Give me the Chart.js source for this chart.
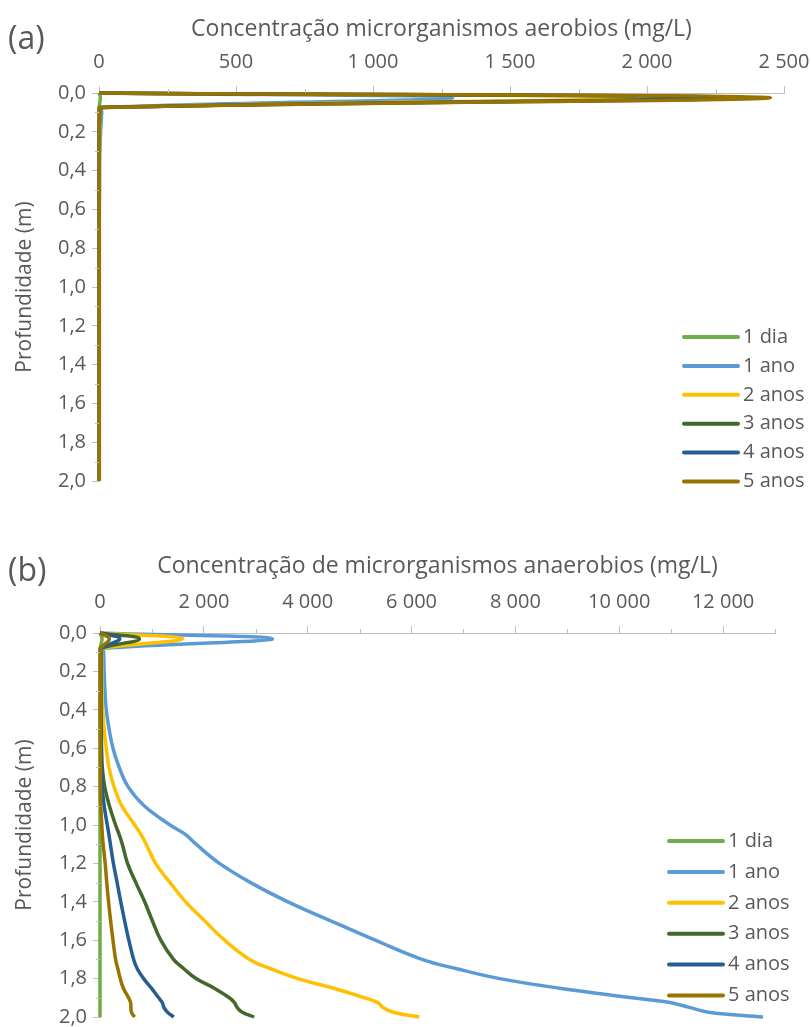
<!DOCTYPE html>
<html>
<head>
<meta charset="utf-8">
<script src="https://cdn.jsdelivr.net/npm/chart.js@4.4.1/dist/chart.umd.min.js"></script>
<style>
  html, body { margin: 0; padding: 0; background: #fff; }
  body { width: 811px; height: 1027px; position: relative; overflow: hidden; }
  canvas { position: absolute; left: 0; }
  #chartA { top: 0; }
  #chartB { top: 537px; }
</style>
</head>
<body>
<canvas id="chartA" width="811" height="510"></canvas>
<canvas id="chartB" width="811" height="490"></canvas>
<script>
const seriesLabels = ['1 dia', '1 ano', '2 anos', '3 anos', '4 anos', '5 anos'];

// tick values
const xTicksA = [0, 500, 1000, 1500, 2000, 2500];
const xTicksB = [0, 2000, 4000, 6000, 8000, 10000, 12000];
const depthTicks = [0, 0.2, 0.4, 0.6, 0.8, 1.0, 1.2, 1.4, 1.6, 1.8, 2.0];

// (a) aerobios - profundidade (m)
const depthsA = [0, 0.025, 0.075, 0.1, 0.2, 0.3, 0.4, 0.5, 0.6, 0.7, 0.8, 0.9, 1.0, 1.1, 1.2, 1.3, 1.4, 1.5, 1.6, 1.7, 1.8, 1.9, 2.0];
const aer1dia  = [0, 5, 0, 0, 0, 0, 0, 0, 0, 0, 0, 0, 0, 0, 0, 0, 0, 0, 0, 0, 0, 0, 0];
const aer1ano  = [0, 1290, 12, 10, 6, 3, 2, 2, 1, 1, 1, 1, 1, 1, 1, 1, 1, 1, 1, 1, 1, 1, 1];
const aer2anos = [0, 1950, 6, 4, 2, 1, 1, 1, 1, 1, 1, 1, 1, 1, 1, 1, 1, 1, 1, 1, 1, 1, 1];
const aer3anos = [0, 2200, 4, 3, 1, 1, 1, 1, 1, 1, 1, 1, 1, 1, 1, 1, 1, 1, 1, 1, 1, 1, 1];
const aer4anos = [0, 2350, 3, 2, 1, 1, 1, 1, 1, 1, 1, 1, 1, 1, 1, 1, 1, 1, 1, 1, 1, 1, 1];
const aer5anos = [0, 2450, 2, 1, 1, 1, 1, 1, 1, 1, 1, 1, 1, 1, 1, 1, 1, 1, 1, 1, 1, 1, 1];

// (b) anaerobios - profundidade (m)
const depthsB = [0, 0.03, 0.08, 0.1, 0.2, 0.3, 0.4, 0.5, 0.6, 0.7, 0.8, 0.9, 1.0, 1.05, 1.1, 1.2, 1.3, 1.4, 1.5, 1.6, 1.7, 1.75, 1.8, 1.85, 1.9, 1.925, 1.95, 1.975, 2.0];
const anae1dia  = [0, 40, 0, 0, 0, 0, 0, 0, 0, 0, 0, 0, 0, 0, 0, 0, 0, 0, 0, 0, 0, 0, 0, 0, 0, 0, 0, 0, 0];
const anae1ano  = [0, 3320, 60, 70, 80, 95, 120, 175, 250, 370, 540, 850, 1350, 1650, 1850, 2300, 2900, 3620, 4450, 5300, 6200, 6890, 7700, 8850, 10250, 10980, 11350, 11720, 12770];
const anae2anos = [0, 1590, 30, 30, 35, 38, 50, 80, 120, 172, 270, 420, 670, 790, 890, 1070, 1350, 1650, 2020, 2400, 2880, 3300, 3810, 4500, 5100, 5350, 5450, 5650, 6150];
const anae3anos = [0, 760, 20, 20, 20, 20, 20, 25, 30, 45, 90, 180, 300, 370, 430, 530, 690, 860, 1010, 1170, 1415, 1620, 1850, 2200, 2490, 2590, 2640, 2740, 2970];
const anae4anos = [0, 380, 10, 10, 10, 10, 10, 12, 15, 25, 40, 80, 140, 172, 200, 258, 330, 400, 475, 555, 648, 720, 840, 990, 1130, 1200, 1230, 1300, 1420];
const anae5anos = [0, 180, 5, 5, 5, 5, 5, 5, 6, 7, 8, 15, 35, 45, 60, 100, 130, 165, 205, 250, 300, 345, 390, 450, 550, 590, 595, 605, 665];

const seriesColors = ['#70AD47', '#5B9BD5', '#FFC000', '#43682B', '#255E91', '#997300'];
const FONT = "'Open Sans', sans-serif";
const TEXT = '#595959';
const AXIS = '#bfbfbf';

// "12 000" style thousands
const thousands = v => Math.round(v).toString().replace(/\B(?=(\d{3})+(?!\d))/g, ' ');
const decimal = v => v.toFixed(1).replace('.', ',');

function buildDatasets(depths, list) {
    return list.map((vals, i) => ({
        label: seriesLabels[i],
        data: vals.map((v, k) => ({ x: v, y: depths[k] })),
        borderColor: seriesColors[i],
        backgroundColor: seriesColors[i],
        borderWidth: 3.5,
        pointRadius: 0,
        pointHoverRadius: 0,
        showLine: true,
        tension: 0.4,
        fill: false,
        clip: 6,
        order: list.length - i   // later series on top, like the original
    }));
}

// panel tag "(a)" / "(b)"
const panelLabel = {
    id: 'panelLabel',
    afterDraw(chart, args, opts) {
        const ctx = chart.ctx;
        ctx.save();
        ctx.font = `32px ${FONT}`;
        ctx.fillStyle = TEXT;
        ctx.textBaseline = 'middle';
        ctx.fillText(opts.text, opts.x, opts.y);
        ctx.restore();
    }
};

// minor tick marks halfway between the major ones
const minorTicks = {
    id: 'minorTicks',
    afterDraw(chart, args, opts) {
        const { ctx, scales: { x, y } } = chart;
        ctx.save();
        ctx.strokeStyle = AXIS;
        ctx.lineWidth = 1;
        ctx.beginPath();
        for (let v = opts.xStep; v <= x.max + 1e-6; v += opts.xStep * 2) {
            const px = Math.round(x.getPixelForValue(v)) + 0.5;
            ctx.moveTo(px, x.bottom);
            ctx.lineTo(px, x.bottom - 4);
        }
        for (let v = opts.yStep; v < y.max; v += opts.yStep * 2) {
            const py = Math.round(y.getPixelForValue(v)) + 0.5;
            ctx.moveTo(y.right, py);
            ctx.lineTo(y.right - 4, py);
        }
        ctx.stroke();
        ctx.restore();
    }
};

// legend drawn inside the plot, lower right
const sideLegend = {
    id: 'sideLegend',
    afterDraw(chart, args, opts) {
        const ctx = chart.ctx;
        ctx.save();
        ctx.font = `20px ${FONT}`;
        ctx.textBaseline = 'middle';
        ctx.lineCap = 'round';
        chart.data.datasets.forEach((ds, i) => {
            const yy = opts.top + i * opts.gap;
            ctx.strokeStyle = ds.borderColor;
            ctx.lineWidth = 4;
            ctx.beginPath();
            ctx.moveTo(opts.left, yy);
            ctx.lineTo(opts.left + 54, yy);
            ctx.stroke();
            ctx.fillStyle = TEXT;
            ctx.fillText(ds.label, opts.left + 59, yy);
        });
        ctx.restore();
    }
};

function makeOptions(o) {
    return {
        responsive: false,
        animation: false,
        layout: { padding: { left: 0, top: 0, right: o.padRight, bottom: o.padBottom } },
        plugins: {
            legend: { display: false },
            tooltip: { enabled: false },
            panelLabel: o.label,
            minorTicks: { xStep: o.xTicks[1] / 2, yStep: 0.1 },
            sideLegend: o.legend
        },
        scales: {
            x: {
                type: 'linear',
                position: 'top',
                min: 0,
                max: o.xMax,
                bounds: 'data',
                afterBuildTicks: s => { s.ticks = o.xTicks.map(v => ({ value: v })); },
                ticks: {
                    padding: 12,
                    color: TEXT,
                    font: { family: FONT, size: 20 },
                    callback: v => thousands(v)
                },
                grid: { drawOnChartArea: false, tickLength: 7, color: AXIS },
                border: { color: AXIS },
                title: {
                    display: true,
                    text: o.xTitle,
                    color: TEXT,
                    font: { family: FONT, size: 23 },
                    padding: { top: 16, bottom: 0 }
                },
                afterFit: s => { s.height = o.axisTop; s.paddingLeft = 0; s.paddingRight = 0; }
            },
            y: {
                type: 'linear',
                reverse: true,
                min: 0,
                max: 2,
                bounds: 'data',
                afterBuildTicks: s => { s.ticks = depthTicks.map(v => ({ value: v })); },
                ticks: {
                    padding: 6,
                    color: TEXT,
                    font: { family: FONT, size: 20 },
                    callback: v => decimal(v)
                },
                grid: { drawOnChartArea: false, tickLength: 7, color: AXIS },
                border: { color: AXIS },
                title: {
                    display: true,
                    text: 'Profundidade (m)',
                    color: TEXT,
                    font: { family: FONT, size: 21 },
                    padding: { top: 12, bottom: 0 }
                },
                afterFit: s => { s.width = o.plotLeft; s.paddingTop = 0; s.paddingBottom = 0; }
            }
        }
    };
}

new Chart(document.getElementById('chartA'), {
    type: 'scatter',
    data: { datasets: buildDatasets(depthsA, [aer1dia, aer1ano, aer2anos, aer3anos, aer4anos, aer5anos]) },
    options: makeOptions({
        xMax: 2500, xTicks: xTicksA, axisTop: 93, plotLeft: 99, padRight: 27, padBottom: 29,
        xTitle: 'Concentração microrganismos aerobios (mg/L)',
        label: { text: '(a)', x: 8, y: 40 },
        legend: { left: 684, top: 337, gap: 28.9 }
    }),
    plugins: [minorTicks, sideLegend, panelLabel]
});

new Chart(document.getElementById('chartB'), {
    type: 'scatter',
    data: { datasets: buildDatasets(depthsB, [anae1dia, anae1ano, anae2anos, anae3anos, anae4anos, anae5anos]) },
    options: makeOptions({
        xMax: 13000, xTicks: xTicksB, axisTop: 96, plotLeft: 100, padRight: 36, padBottom: 10,
        xTitle: 'Concentração de microrganismos anaerobios (mg/L)',
        label: { text: '(b)', x: 8, y: 35 },
        legend: { left: 669, top: 304, gap: 30.9 }
    }),
    plugins: [minorTicks, sideLegend, panelLabel]
});
</script>
</body>
</html>
